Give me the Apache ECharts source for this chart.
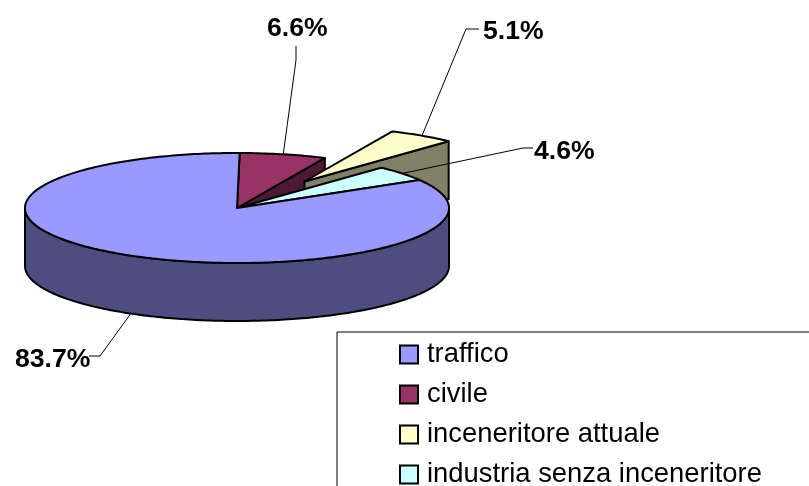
<!DOCTYPE html>
<html>
<head>
<meta charset="utf-8">
<script src="https://cdn.jsdelivr.net/npm/echarts@6/dist/echarts.min.js"></script>
<style>
html, body {margin: 0; padding: 0; background: #fff; overflow: hidden;}
#main {width: 809px; height: 486px;}
</style>
</head>
<body>
<div id="main"></div>
<script>
// chart values
const categories = ['traffico', 'civile', 'inceneritore attuale', 'industria senza inceneritore'];
const shares = [83.7, 6.6, 5.1, 4.6];

// look of each slice, same order as categories
const topColors = ['#9999ff', '#993366', '#ffffcc', '#ccffff'];
const wallColors = ['#4d4d80', '#4d1a33', '#808066', '#668080'];
const explode = [[0, 0], [0, 0], [67.5, -26.5], [0, 0]];
// label left/middle and the elbow of its leader line
const labelAt = [[15, 360], [267, 29], [483, 32], [534, 152]];
const elbows = [[[100, 356], [89, 356]], [[296, 60], [296, 46]], [[466, 29], [479, 29]], [[523, 148], [533, 148]]];
// far slices get painted first, the big one covers them
const drawOrder = [1, 2, 3, 0];

const cx = 237, cy = 208, rx = 212, ry = 55, depth = 58;
const firstAngle = 59.4;
const total = shares.reduce((a, b) => a + b, 0);

function startOf(i){
    let a = firstAngle;
    for (let k = 0; k < i; k++) a += shares[k] / total * 360;
    return a;
}
function rimPoint(deg, dx, dy){
    let t = deg * Math.PI / 180;
    return [cx + dx + rx * Math.sin(t), cy + dy - ry * Math.cos(t)];
}
function stroked(points, fill){
    return {
        type: 'polygon',
        shape: {points: points},
        style: {fill: fill, stroke: '#000', lineWidth: 2, lineJoin: 'round'}
    };
}

function renderSlice(i, api){
    let sweep = api.value(0) / total * 360;
    let from = startOf(i), to = from + sweep;
    let dx = explode[i][0], dy = explode[i][1];
    let apex = [cx + dx, cy + dy];
    let rim = [];
    for (let a = from; a < to; a += 1) rim.push(rimPoint(a, dx, dy));
    rim.push(rimPoint(to, dx, dy));
    let down = p => [p[0], p[1] + depth];
    let children = [];

    // the cut face on the closing side, seen only for the small slices
    if (i > 0){
        let end = rim[rim.length - 1];
        children.push(stroked([apex, end, down(end), down(apex)], wallColors[i]));
    }
    // outer wall, only where the rim faces the viewer
    let front = [];
    for (let a = Math.max(from, 90); a <= Math.min(to, 270); a += 1) front.push(rimPoint(a, dx, dy));
    if (front.length > 1){
        children.push(stroked(front.concat(front.map(down).reverse()), wallColors[i]));
    }
    children.push(stroked([apex].concat(rim), topColors[i]));

    // leader line and percentage
    let anchor = rimPoint((from + to) / 2, dx, dy);
    if (i === 0) anchor = down(anchor);
    children.push({
        type: 'polyline',
        shape: {points: [anchor].concat(elbows[i])},
        style: {fill: null, stroke: '#000', lineWidth: 1}
    });
    children.push({
        type: 'text',
        style: {
            text: api.value(0).toFixed(1) + '%',
            x: labelAt[i][0],
            y: labelAt[i][1],
            verticalAlign: 'middle',
            fill: '#000',
            font: 'bold 26.6px "Liberation Sans", Arial, sans-serif'
        }
    });
    return {type: 'group', children: children};
}

let series = drawOrder.map(i => ({
    type: 'custom',
    name: categories[i],
    coordinateSystem: 'none',
    data: [[shares[i]]],
    itemStyle: {color: topColors[i], borderColor: '#000', borderWidth: 2},
    renderItem: (params, api) => renderSlice(i, api),
    silent: true,
    animation: false
}));

let option = {
    backgroundColor: '#fff',
    animation: false,
    legend: {
        show: true,
        orient: 'vertical',
        left: 337,
        top: 332,
        height: 300,
        padding: [9, 60, 14, 62],
        data: categories,
        icon: 'rect',
        itemWidth: 18,
        itemHeight: 18,
        itemGap: 13,
        align: 'left',
        borderColor: '#000',
        borderWidth: 1,
        selectedMode: false,
        textStyle: {
            color: '#000',
            fontSize: 27.4,
            fontFamily: '"Liberation Sans", Arial, sans-serif',
            padding: [0, 0, 0, 4]
        }
    },
    series: series
};

var chart = echarts.init(document.getElementById('main'));
chart.setOption(option);
</script>
</body>
</html>
